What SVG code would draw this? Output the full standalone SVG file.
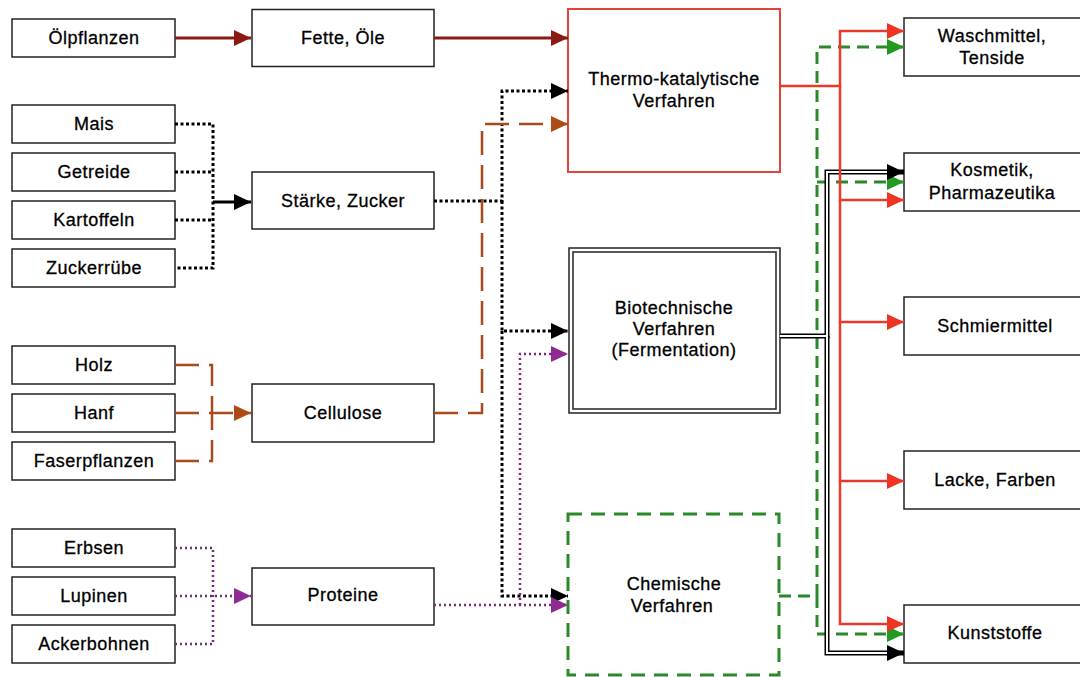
<svg xmlns="http://www.w3.org/2000/svg" width="1080" height="677" viewBox="0 0 1080 677">
<style>
.box{fill:#fff;stroke:#222;stroke-width:1.5}
.t{font-family:"Liberation Sans",Arial,sans-serif;font-size:18px;letter-spacing:0.5px;text-anchor:middle;fill:#000;stroke:#000;stroke-width:0.3}
.c{fill:none}
.dred{stroke:#8b1a14;stroke-width:3}
.bdot{stroke:#000;stroke-width:3;stroke-dasharray:3 2.5}
.bsol{stroke:#000;stroke-width:3}
.brown{stroke:#a84a1c;stroke-width:2.5;stroke-dasharray:24 10}
.purp{stroke:#7a2a7e;stroke-width:2.5;stroke-dasharray:2 3}
.red{stroke:#e8392b;stroke-width:2.5}
.green{stroke:#2a8a2a;stroke-width:3;stroke-dasharray:12 7}
.dblo{stroke:#000;stroke-width:5}
.dbli{stroke:#fff;stroke-width:2}
</style>
<defs>
<marker id="aDred" viewBox="0 0 17 16" refX="17" refY="8" markerWidth="17" markerHeight="16" markerUnits="userSpaceOnUse" orient="auto"><path d="M0,0 L17,8 L0,16 z" fill="#8b1a14"/></marker>
<marker id="aBlk" viewBox="0 0 17 16" refX="17" refY="8" markerWidth="17" markerHeight="16" markerUnits="userSpaceOnUse" orient="auto"><path d="M0,0 L17,8 L0,16 z" fill="#000"/></marker>
<marker id="aBrown" viewBox="0 0 17 16" refX="17" refY="8" markerWidth="17" markerHeight="16" markerUnits="userSpaceOnUse" orient="auto"><path d="M0,0 L17,8 L0,16 z" fill="#b04a14"/></marker>
<marker id="aPurp" viewBox="0 0 17 16" refX="17" refY="8" markerWidth="17" markerHeight="16" markerUnits="userSpaceOnUse" orient="auto"><path d="M0,0 L17,8 L0,16 z" fill="#8e2a91"/></marker>
<marker id="aRed" viewBox="0 0 17 16" refX="17" refY="8" markerWidth="17" markerHeight="16" markerUnits="userSpaceOnUse" orient="auto"><path d="M0,0 L17,8 L0,16 z" fill="#ee3524"/></marker>
<marker id="aGreen" viewBox="0 0 17 16" refX="17" refY="8" markerWidth="17" markerHeight="16" markerUnits="userSpaceOnUse" orient="auto"><path d="M0,0 L17,8 L0,16 z" fill="#229a22"/></marker>
</defs>
<rect width="1080" height="677" fill="#fff"/>

<g id="oelpflanzen"><rect class="box" x="12" y="19" width="163" height="38"/><text class="t" x="94" y="44">Ölpflanzen</text></g>
<g id="mais"><rect class="box" x="12" y="105" width="163" height="38"/><text class="t" x="94" y="130">Mais</text></g>
<g id="getreide"><rect class="box" x="12" y="153" width="163" height="38"/><text class="t" x="94" y="178">Getreide</text></g>
<g id="kartoffeln"><rect class="box" x="12" y="201" width="163" height="38"/><text class="t" x="94" y="226">Kartoffeln</text></g>
<g id="zuckerruebe"><rect class="box" x="12" y="249" width="163" height="38"/><text class="t" x="94" y="274">Zuckerrübe</text></g>
<g id="holz"><rect class="box" x="12" y="346" width="163" height="38"/><text class="t" x="94" y="371">Holz</text></g>
<g id="hanf"><rect class="box" x="12" y="394" width="163" height="38"/><text class="t" x="94" y="419">Hanf</text></g>
<g id="faserpflanzen"><rect class="box" x="12" y="442" width="163" height="38"/><text class="t" x="94" y="467">Faserpflanzen</text></g>
<g id="erbsen"><rect class="box" x="12" y="529" width="163" height="38"/><text class="t" x="94" y="554">Erbsen</text></g>
<g id="lupinen"><rect class="box" x="12" y="577" width="163" height="38"/><text class="t" x="94" y="602">Lupinen</text></g>
<g id="ackerbohnen"><rect class="box" x="12" y="625" width="163" height="38"/><text class="t" x="94" y="650">Ackerbohnen</text></g>

<g id="fette"><rect class="box" x="252" y="9.5" width="182" height="57"/><text class="t" x="343" y="44">Fette, Öle</text></g>
<g id="staerke"><rect class="box" x="252" y="172" width="182" height="57"/><text class="t" x="343" y="207">Stärke, Zucker</text></g>
<g id="cellulose"><rect class="box" x="252" y="384" width="182" height="58"/><text class="t" x="343" y="419">Cellulose</text></g>
<g id="proteine"><rect class="box" x="252" y="568" width="182" height="57"/><text class="t" x="343" y="601">Proteine</text></g>

<g id="thermo"><rect x="568" y="9" width="212" height="163" fill="#fff" stroke="#e0443a" stroke-width="2"/><text class="t" x="674" y="85">Thermo-katalytische</text><text class="t" x="674" y="107">Verfahren</text></g>
<g id="biotech"><rect class="box" x="569" y="248" width="211" height="165"/><rect class="box" x="573" y="252" width="203" height="157"/><text class="t" x="674" y="314">Biotechnische</text><text class="t" x="674" y="335">Verfahren</text><text class="t" x="674" y="356">(Fermentation)</text></g>
<g id="chemisch"><rect x="568" y="514" width="211" height="161" fill="#fff" stroke="#2a8a2a" stroke-width="3" stroke-dasharray="14 9"/><text class="t" x="674" y="590">Chemische</text><text class="t" x="672" y="612">Verfahren</text></g>

<g id="waschmittel"><rect class="box" x="904" y="18" width="180" height="58"/><text class="t" x="992" y="42">Waschmittel,</text><text class="t" x="992" y="64">Tenside</text></g>
<g id="kosmetik"><rect class="box" x="904" y="153" width="180" height="58"/><text class="t" x="992" y="176">Kosmetik,</text><text class="t" x="992" y="199">Pharmazeutika</text></g>
<g id="schmiermittel"><rect class="box" x="904" y="297" width="180" height="58"/><text class="t" x="995" y="332">Schmiermittel</text></g>
<g id="lacke"><rect class="box" x="904" y="451" width="180" height="58"/><text class="t" x="995" y="486">Lacke, Farben</text></g>
<g id="kunststoffe"><rect class="box" x="904" y="605" width="180" height="58"/><text class="t" x="995" y="639">Kunststoffe</text></g>

<g id="connectors" class="c">
<path class="c dred" d="M175,38 H251" marker-end="url(#aDred)"/>
<path class="c dred" d="M434,38 H568" marker-end="url(#aDred)"/>

<path class="c bdot" d="M175,124 H213 V268 H175"/>
<path class="c bdot" d="M175,172 H213"/>
<path class="c bdot" d="M175,220 H213"/>
<path class="c bsol" d="M213,202 H251" marker-end="url(#aBlk)"/>
<path class="c bdot" d="M434,201 H502 V91 H568" marker-end="url(#aBlk)"/>
<path class="c bdot" d="M502,201 V331 H568" marker-end="url(#aBlk)"/>
<path class="c bdot" d="M502,331 V596 H568" marker-end="url(#aBlk)"/>

<path class="c brown" d="M175,365 H212 V413"/>
<path class="c brown" d="M175,461 H212 V413"/>
<path class="c brown" d="M175,413 H251" marker-end="url(#aBrown)"/>
<path class="c brown" d="M434,413 H482 V124 H568" marker-end="url(#aBrown)"/>

<path class="c purp" d="M175,548 H213 V644 H175"/>
<path class="c purp" d="M175,596 H251" marker-end="url(#aPurp)"/>
<path class="c purp" d="M434,605 H568" marker-end="url(#aPurp)"/>
<path class="c purp" d="M520,605 V354 H568" marker-end="url(#aPurp)"/>

<path class="c green" d="M779,596 H817 V47 H904" marker-end="url(#aGreen)"/>
<path class="c green" d="M817,182 H904" marker-end="url(#aGreen)"/>
<path class="c green" d="M817,596 V634 H904" marker-end="url(#aGreen)"/>

<path class="c dblo" d="M780,336 H827 V172 H904" marker-end="url(#aBlk)"/>
<path class="c dblo" d="M827,336 V653 H904" marker-end="url(#aBlk)"/>
<path class="c dbli" d="M780,336 H827 V172 H887"/>
<path class="c dbli" d="M827,336 V653 H887"/>

<path class="c red" d="M780,86 H840 V31 H904" marker-end="url(#aRed)"/>
<path class="c red" d="M840,86 V200 H904" marker-end="url(#aRed)"/>
<path class="c red" d="M840,200 V322 H904" marker-end="url(#aRed)"/>
<path class="c red" d="M840,322 V481 H904" marker-end="url(#aRed)"/>
<path class="c red" d="M840,481 V624 H904" marker-end="url(#aRed)"/>
</g>
</svg>
